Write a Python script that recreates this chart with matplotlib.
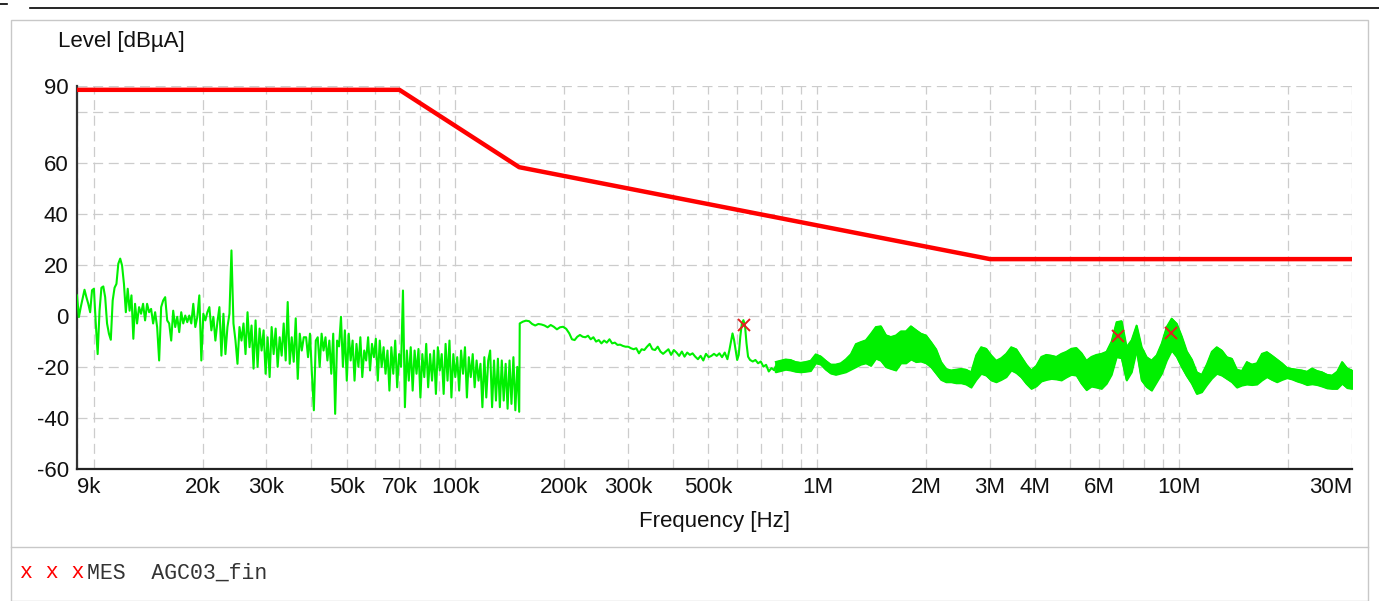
import numpy as np
import matplotlib
matplotlib.use("Agg")
import matplotlib.pyplot as plt
from matplotlib.lines import Line2D
from matplotlib.patches import Rectangle

plt.rcParams['font.family'] = ['Liberation Sans', 'DejaVu Sans']
plt.rcParams['axes.unicode_minus'] = False

# limit line (dBuA)
limit_f = [9e3, 70e3, 150e3, 3e6, 30e6]
limit_lv = [88.5, 88.5, 58.2, 22.2, 22.2]

seg_a_f = (9.0e3, 12.88e3)
seg_a = [8, -0.5, 3.4, 6.7, 10.2, 7.3, 4.7, 1.4, 10, 10.6, -3, -15, 2, 11, 11.5,
         7.3, -3, -7, -9.4, 6, 11, 12.5, 20.4, 22.4, 19.7, 12.5, 1.4, 10.6, 2, 8, -9]

seg_b_f = (13.02e3, 38.09e3)
seg_b = [4.7, -3, 3.4, 0.8, 4.7, -1.8, 4.7, 1.4, 2.7, -3,
         1.4, -4.4, -17.5, 3.4, 6, 7.3, -1.8, -3, -9.7, 2,
         -4.4, -0.4, -6.4, 1.4, -3, 0.1, -2.5, 0.1, -3, 4.7,
         -4.4, -0.4, 8, -17.5, 0.8, -1.8, 1.4, 3.4, -5.7, -0.4,
         -9.7, -2.5, 3.4, -15.6, 0.8, -15, -4.4, 0.8, 25.6, -3,
         -9.7, -18.8, -4.4, -9.7, -3, -15, 1.4, -12.3, -3.8, -20.7,
         -1.8, -20, -5, -13.6, -5.7, -22.7, -8.4, -24, -4.4, -15,
         -5, -20, -8.4, -15.6, -3, -17.5, 5.4, -18.8, -8.4, -18,
         -1, -24.7, -7, -13.6, -8.4]

seg_c_f = (38.66e3, 150.0e3)
seg_c = [-8.4, -16.2, -7, -22.7, -37, -9.7, -8.4, -20, -7, -13.6,
         -8.4, -17.5, -9.7, -22.7, -7, -38.4, -9.7, -12, -0.4, -20,
         -5.7, -25.4, -7, -17.5, -9.7, -25.4, -11, -20, -8.4, -24,
         -13.6, -17.5, -8.4, -21.4, -11, -16.2, -9, -25.4, -9.7, -20,
         -12.3, -22.7, -13.6, -29.3, -12.3, -22.7, -9.7, -28, -15, -20,
         9.9, -35.8, -13.6, -25.4, -12.3, -29.3, -13.6, -22.7, -13, -32,
         -15, -24, -11, -28, -15, -25.4, -13.6, -30.6, -12.3, -21.4,
         -15, -30.6, -11, -25.4, -9.7, -32, -15, -24, -16.2, -29.3,
         -13.6, -22.7, -12.3, -32, -16.2, -24, -15, -28, -17.5, -25.4,
         -18.8, -35.8, -16.2, -32, -17.5, -13.6, -35.8, -17.5, -33.2, -16.8,
         -35.8, -17.5, -33.2, -18.8, -36.4, -17.5, -34.5, -16.2, -37, -20,
         -37.6]

seg_d1_f = (150.5e3, 206.3e3)
seg_d1 = [-3, -2.3, -1.9, -2.1, -3.2, -3.8, -3.2, -3.4, -3.8, -4.5, -3.6, -4.3,
          -5.3, -4.5, -4.3, -5.1, -6.9]

seg_d2_f = (209.8e3, 564.1e3)
seg_d2 = [-9.2, -9.5, -8.2, -7.5, -8.2, -8.4, -7.8, -9.2, -8.4, -10.1,
          -9.5, -10.8, -9.7, -10.5, -9.2, -10.8, -10.5, -11.4, -11.3, -11.8,
          -12.1, -12.1, -12.7, -13.1, -12.7, -14.7, -13.1, -13.4, -12.1, -11,
          -13.1, -13.4, -12.1, -14, -14.9, -14, -13.1, -15.3, -13.4, -14.4,
          -15.7, -14, -16, -14.4, -15.3, -14.7, -16, -17, -15.7, -17.5,
          -14.9, -16.2, -15.7, -14.9, -15.7, -14.7, -16.2, -14.4, -17]

seg_d3_f = (571.3e3, 643.3e3)
seg_d3 = [-13.4, -10.1, -6.9, -9.5, -13.4, -17.3, -15.3, -8.2, -3, -1.7, -3.6, -10.8, -16]

seg_d4_f = (651.6e3, 759.2e3)
seg_d4 = [-17.3, -17.9, -17.3, -18.6, -17.9, -19.9, -19.2, -21.8, -20.5, -21.2]

# dense part of the scan: upper and lower edge of the trace
band_f = (765.7e3, 30e6)
band_hi = [-18, -17.5, -17, -17.2, -18, -18.3, -18, -17.5, -15, -15.8,
           -17.5, -19, -19, -18.5, -17, -15, -11, -10.2, -9.5, -7,
           -4.3, -4, -7.5, -8.2, -7.6, -6, -6, -4, -5.5, -6.9,
           -7.6, -10.2, -13, -18, -20.7, -21.3, -21, -20.7, -21, -22,
           -15.4, -12.2, -12.8, -15.4, -17.5, -16.5, -14.8, -12.2, -13, -16,
           -19, -21.3, -19.5, -16, -15.2, -15.5, -16, -14.8, -14, -12.8,
           -12.5, -14.5, -17.5, -16, -15.2, -14.8, -14, -10, -2.4, -2,
           -12.2, -9.5, -3.7, -12.2, -16.1, -17.4, -15.4, -10.8, -4.3, -1,
           -3, -8, -13.8, -17, -22, -23, -19, -14, -12.2, -13.5,
           -16.1, -16.7, -21, -21.5, -18, -19, -18.5, -14.8, -14.1, -15.5,
           -17, -18.5, -20.3, -20.7, -21, -21.3, -21.8, -20.5, -21.5, -22,
           -23, -23.3, -21.8, -18, -20.5, -21.3]
band_lo = [-22, -21.5, -21, -21.3, -21.8, -22, -21.8, -21.5, -18.5, -19,
           -21, -22.5, -23, -22.5, -22, -21, -20, -19, -18.5, -19.5,
           -16.7, -17.5, -20, -20.7, -21.3, -18.5, -18.5, -17, -18, -17.8,
           -18.5, -20, -22.5, -25, -25.9, -25.9, -26.3, -26.3, -26.8, -28,
           -25, -22.6, -23.3, -25.2, -25.9, -25, -23.9, -21.3, -22.3, -24,
           -26.5, -28.5, -27.5, -25.6, -25, -24.6, -24.8, -25.2, -24, -23,
           -23.3, -26.5, -29, -27.6, -28, -28.5, -26.5, -23, -16.1, -16.5,
           -25.2, -22, -13.5, -25.2, -27.8, -29.2, -25.9, -22.6, -17.4, -13.5,
           -16, -20, -23.5, -26.5, -30.5, -29.8, -27, -24.5, -22.6, -23.3,
           -24.6, -25.9, -28, -27.2, -26.8, -27, -26.8, -25.2, -23.9, -25,
           -25.9, -25, -24.3, -24.8, -25.6, -26.2, -27, -26.7, -27, -27.6,
           -28.3, -28.5, -28.5, -26.5, -28.2, -28.5]

# final measurement markers
mes_f = [625e3, 6.76e6, 9.47e6]
mes_lv = [-3.7, -8.0, -6.9]

xtick_values = [9e3, 20e3, 30e3, 50e3, 70e3, 100e3, 200e3, 300e3, 500e3,
                1e6, 2e6, 3e6, 4e6, 6e6, 10e6, 30e6]
xtick_labels = ['9k', '20k', '30k', '50k', '70k', '100k', '200k', '300k', '500k',
                '1M', '2M', '3M', '4M', '6M', '10M', '30M']
ytick_values = [90, 60, 40, 20, 0, -20, -40, -60]

GREEN = '#00f000'
RED = '#ff0000'
W, H = 1379, 601

fig = plt.figure(figsize=(W / 100, H / 100), dpi=100)

# outer frame and rules
fig.add_artist(Rectangle((10.5 / W, 0), (1368 - 10.5) / W, 1 - 20 / H,
                         transform=fig.transFigure, fill=False,
                         edgecolor='#c8c8c8', lw=1.0))
fig.add_artist(Line2D([10.5 / W, 1368 / W], [1 - 547 / H, 1 - 547 / H],
                      transform=fig.transFigure, color='#c8c8c8', lw=1.0))
fig.add_artist(Line2D([30 / W, 1], [1 - 7.5 / H, 1 - 7.5 / H],
                      transform=fig.transFigure, color='black', lw=1.2))
fig.add_artist(Line2D([0, 7 / W], [1 - 4 / H, 1 - 4 / H],
                      transform=fig.transFigure, color='black', lw=1.2))

ax = fig.add_axes([77 / W, 1 - 469 / H, (1352 - 77) / W, (469 - 86) / H])

# trace
segments = [(seg_a_f, seg_a), (seg_b_f, seg_b), (seg_c_f, seg_c), (seg_d1_f, seg_d1),
            (seg_d2_f, seg_d2), (seg_d3_f, seg_d3), (seg_d4_f, seg_d4)]
trace_f = np.concatenate([np.geomspace(f[0], f[1], len(v)) for f, v in segments])
trace_lv = np.concatenate([np.array(v, dtype=float) for f, v in segments])
ax.plot(trace_f, trace_lv, color=GREEN, lw=1.5, zorder=3)

bf = np.geomspace(band_f[0], band_f[1], len(band_hi))
ax.fill_between(bf, band_lo, band_hi, color=GREEN, lw=1.2, zorder=3)
ax.plot(bf, band_hi, color=GREEN, lw=1.0, zorder=3)
ax.plot(bf, band_lo, color=GREEN, lw=1.0, zorder=3)
ax.plot([trace_f[-1], bf[0]], [trace_lv[-1], (band_hi[0] + band_lo[0]) / 2],
        color=GREEN, lw=1.5, zorder=3)

ax.plot(limit_f, limit_lv, color=RED, lw=3.2, zorder=4, solid_capstyle='butt')
ax.plot(mes_f, mes_lv, ls='none', marker='x', color='#e02020', ms=8, mew=1.4, zorder=5)

ax.set_xscale('log')
ax.set_xlim(9e3, 30e6)
ax.set_ylim(-60, 90)

minor = [k * 10 ** e for e in range(4, 8) for k in range(1, 10) if k * 10 ** e <= 30e6]
ax.set_xticks(minor, minor=True)
ax.set_xticks(xtick_values)
ax.set_xticklabels(xtick_labels)
ax.xaxis.set_minor_formatter(matplotlib.ticker.NullFormatter())
ax.set_yticks(ytick_values)
ax.set_yticks([80], minor=True)

ax.tick_params(axis='both', which='both', length=0, labelsize=16, colors='#111111')
ax.tick_params(axis='x', pad=6)
ax.tick_params(axis='y', pad=6)
labels = ax.get_xticklabels()
labels[0].set_horizontalalignment('left')
labels[-1].set_horizontalalignment('right')

ax.grid(True, which='both', color='#cccccc', lw=0.9, ls=(0, (8, 4.5)), zorder=0)
ax.set_axisbelow(True)

for s in ('top', 'right'):
    ax.spines[s].set_visible(False)
ax.spines['left'].set_color('#333333')
ax.spines['bottom'].set_color('#222222')
ax.spines['left'].set_linewidth(1.6)
ax.spines['bottom'].set_linewidth(1.6)

fig.text(58 / W, 1 - 42 / H, 'Level [dBµA]', fontsize=16, ha='left', va='center',
         color='#111111')
fig.text(715 / W, 1 - 521 / H, 'Frequency [Hz]', fontsize=16, ha='center', va='center',
         color='#111111')

fig.text(20 / W, 1 - 573 / H, 'x x x', family='Liberation Mono', fontsize=15.5,
         color=RED, ha='left', va='center')
fig.text(87 / W, 1 - 573 / H, 'MES  AGC03_fin', family='Liberation Mono', fontsize=15.5,
         color='#333333', ha='left', va='center')

fig.savefig('out.png', dpi=100)
